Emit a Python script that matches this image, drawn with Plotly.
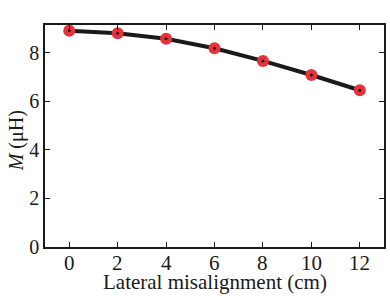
import plotly.graph_objects as go

x_cm = [0, 2, 4, 6, 8, 10, 12]
m_uh = [8.91, 8.81, 8.58, 8.19, 7.67, 7.09, 6.46]
x_ticks = [0, 2, 4, 6, 8, 10, 12]
y_ticks = [0, 2, 4, 6, 8]

fig = go.Figure()
fig.add_trace(go.Scatter(x=x_cm, y=m_uh, mode="lines",
                         line=dict(color="#1a1a1a", width=4), showlegend=False))
fig.add_trace(go.Scatter(x=x_cm, y=m_uh, mode="markers",
                         marker=dict(color="#e8323a", size=12, symbol="circle",
                                     line=dict(width=0)), showlegend=False))
fig.add_trace(go.Scatter(x=x_cm, y=m_uh, mode="markers",
                         marker=dict(color="#1a1a1a", size=3), showlegend=False))

font = dict(family="Liberation Serif", color="#1a1a1a")
axis_common = dict(showgrid=False, zeroline=False, showline=True, linecolor="#1a1a1a",
                   linewidth=1.5, mirror="ticks", ticks="inside", ticklen=5,
                   tickcolor="#1a1a1a", tickwidth=1, tickfont=dict(size=20, **font),
                   automargin=False)

# x tick labels placed just below the axis (tight, as in the reference)
tick_annots = [
    dict(text=str(v), x=v, xref="x", y=-0.008, yref="paper", xanchor="center",
         yanchor="top", showarrow=False, font=dict(size=21, **font))
    for v in x_ticks
]

fig.update_layout(
    width=390, height=296,
    margin=dict(l=45, r=6, t=25, b=49),
    paper_bgcolor="white", plot_bgcolor="white",
    font=font,
    xaxis=dict(range=[-1, 13], tickvals=x_ticks, showticklabels=False, **axis_common),
    yaxis=dict(range=[0, 9.15], tickvals=y_ticks, **axis_common),
    annotations=tick_annots + [
        dict(text="Lateral misalignment (cm)", xref="paper", yref="paper",
             x=0.5, y=-0.094, xanchor="center", yanchor="top", showarrow=False,
             font=dict(size=21, **font)),
        dict(text="<i>M</i> (μH)", xref="paper", yref="paper", textangle=-90,
             x=-0.083, y=0.48, xanchor="center", yanchor="middle", showarrow=False,
             font=dict(size=20, **font)),
    ],
)
fig.write_html("out.html")
